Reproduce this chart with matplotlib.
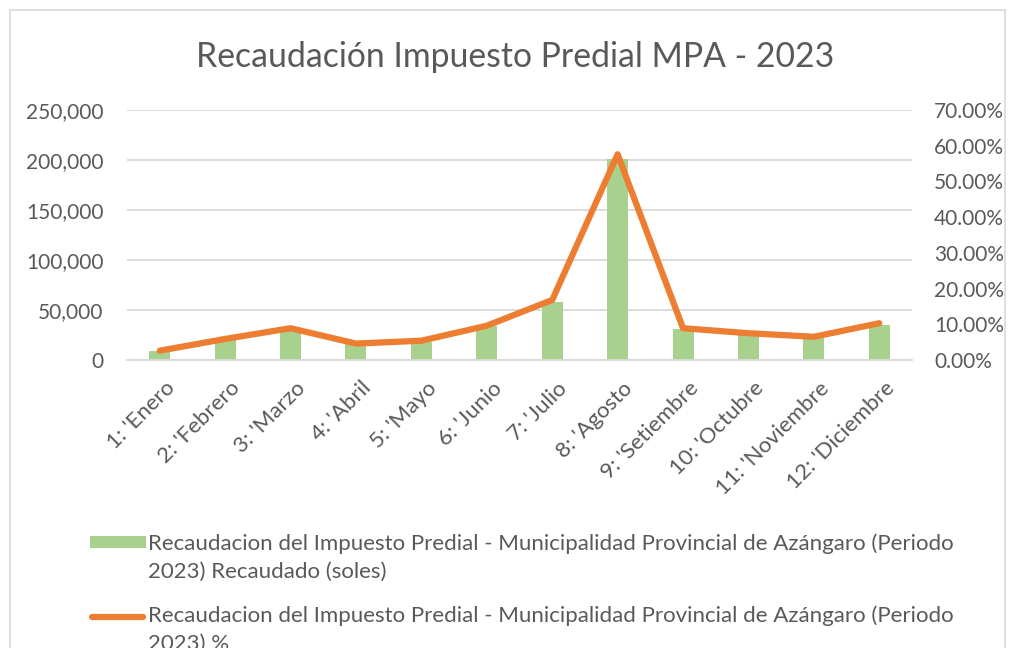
import matplotlib
matplotlib.use("Agg")
import matplotlib.pyplot as plt
from matplotlib.ticker import FuncFormatter, MultipleLocator
from matplotlib.patches import Rectangle
from matplotlib.lines import Line2D
import matplotlib.transforms as mtrans

plt.rcParams['font.family'] = ['Lato', 'DejaVu Sans']

months = ["1: 'Enero", "2: 'Febrero", "3: 'Marzo", "4: 'Abril", "5: 'Mayo", "6: 'Junio",
          "7: 'Julio", "8: 'Agosto", "9: 'Setiembre", "10: 'Octubre", "11: 'Noviembre", "12: 'Diciembre"]
recaudado = [9500, 20000, 30000, 16000, 18500, 34000, 58000, 201000, 30700, 26000, 22000, 35000]
porcentaje = [2.6, 5.9, 8.9, 4.6, 5.4, 9.6, 16.8, 57.6, 8.9, 7.5, 6.5, 10.3]

label_bar = "Recaudacion del Impuesto Predial - Municipalidad Provincial de Azángaro (Periodo\n2023) Recaudado (soles)"
label_line = "Recaudacion del Impuesto Predial - Municipalidad Provincial de Azángaro (Periodo\n2023) %"

green = "#A9D18E"
orange = "#ED7D31"
grey = "#595959"
gridc = "#D9D9D9"

W, H = 1009, 648
fig = plt.figure(figsize=(W/100, H/100), dpi=100)
ax = fig.add_axes([127/W, 1-360/H, (912-127)/W, 250/H])
ax2 = ax.twinx()

x = list(range(len(months)))
ax.bar(x, recaudado, width=0.32, color=green, zorder=2)
ax.set_xlim(-0.5, len(months)-0.5)
ax.set_ylim(0, 250000)
ax.yaxis.set_major_locator(MultipleLocator(50000))
ax.yaxis.set_major_formatter(FuncFormatter(lambda v, p: f"{int(v):,}"))
ax.grid(axis='y', color=gridc, lw=1.3, zorder=0)
ax.set_axisbelow(True)

ax2.plot(x, porcentaje, color=orange, lw=4.5, solid_capstyle='round', solid_joinstyle='round', zorder=3)
ax2.set_ylim(0, 70)
ax2.yaxis.set_major_locator(MultipleLocator(10))
ax2.yaxis.set_major_formatter(FuncFormatter(lambda v, p: f"{v:.2f}%"))

for a in (ax, ax2):
    for s in a.spines.values():
        s.set_visible(False)
    a.tick_params(length=0, labelsize=15, colors=grey)
ax.spines['bottom'].set_visible(True)
ax.spines['bottom'].set_color(gridc)
ax.spines['bottom'].set_linewidth(1.3)
ax.tick_params(axis='y', pad=17)
ax2.tick_params(axis='y', pad=16)

ax.set_xticks(x)
ax.set_xticklabels(months, rotation=45, ha='right', rotation_mode='anchor', fontsize=16, color=grey)
ax.tick_params(axis='x', pad=13)
off = mtrans.ScaledTranslation(5/100, 0, fig.dpi_scale_trans)
for lbl in ax.get_xticklabels():
    lbl.set_transform(lbl.get_transform() + off)

fig.text(515/W, 1-57/H, "Recaudación Impuesto Predial MPA - 2023", ha='center', va='center',
         fontsize=24.3, color=grey)

# legend drawn manually
def fy(py):
    return 1 - py/H

fig.patches.append(Rectangle((90/W, fy(548)), 56/W, 12/H, transform=fig.transFigure,
                             color=green, lw=0))
fig.lines.append(Line2D([92/W, 143/W], [fy(617), fy(617)], transform=fig.transFigure,
                        color=orange, lw=4.5, solid_capstyle='round'))
fig.text(148/W, fy(533), label_bar, ha='left', va='top', fontsize=16, color=grey,
         linespacing=1.5, transform=fig.transFigure)
fig.text(148/W, fy(605), label_line, ha='left', va='top', fontsize=16, color=grey,
         linespacing=1.5, transform=fig.transFigure)

# outer frame
fig.patches.append(Rectangle((10/W, -0.1), 995/W, 1.1-10/H, transform=fig.transFigure,
                             fill=False, edgecolor=gridc, lw=1.2))

fig.savefig("out.png", dpi=100)
